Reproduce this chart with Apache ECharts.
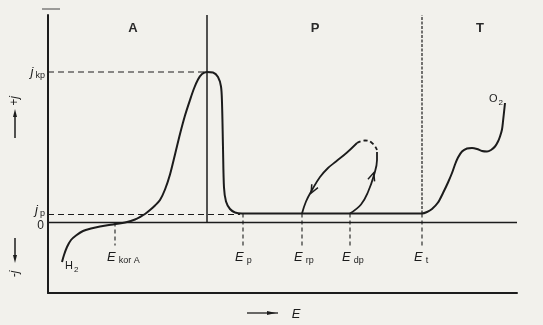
<!DOCTYPE html>
<html>
<head>
<meta charset="utf-8">
<script src="https://cdn.jsdelivr.net/npm/echarts@6/dist/echarts.min.js"></script>
<style>
html,body{margin:0;padding:0;background:#f2f1ec;}
#c{width:543px;height:325px;}
</style>
</head>
<body>
<div id="c"></div>
<script>
// ---- data (E in arbitrary units, j in arbitrary units) ----
const mainE = [1.4, 1.6, 1.9, 2.3, 2.8, 3.5, 4.3, 5.2, 6.5, 7.9, 8.7, 9.2, 9.7, 10.2, 10.7, 11.2, 11.7, 12.2, 12.7, 13.2, 13.7, 14.2, 14.6, 15.0, 15.4, 15.9, 16.5, 17.0, 17.3, 17.4, 17.5, 17.6, 17.8, 18.2, 18.7, 19.4,
               37.4, 37.9, 38.4, 39.0, 39.5, 40.0, 40.4, 40.7, 41.0, 41.4, 41.9, 42.4, 42.9, 43.4, 43.9, 44.3, 44.7, 45.0, 45.2, 45.4, 45.5, 45.7];
const mainJ = [-3.95, -3.25, -2.45, -1.75, -1.3, -0.85, -0.6, -0.4, -0.2, 0.05, 0.3, 0.55, 0.85, 1.25, 1.7, 2.25, 3.3, 4.8, 6.8, 8.85, 10.7, 12.25, 13.4, 14.3, 14.85, 15.05, 15.0, 14.55, 13.6, 12.0, 7.5, 3.5, 2.1, 1.35, 1.0, 0.9,
               0.9, 1.05, 1.35, 2.0, 2.95, 4.0, 4.95, 5.8, 6.5, 7.1, 7.4, 7.45, 7.35, 7.15, 7.1, 7.25, 7.6, 8.1, 8.6, 9.3, 10.1, 11.95];
const loopLeftE = [25.4, 25.8, 26.4, 27.2, 28.0, 28.8, 29.9, 30.9];
const loopLeftJ = [0.9, 2.1, 3.25, 4.55, 5.45, 6.1, 7.0, 7.95];
const loopTopE = [30.9, 31.7, 32.4, 32.9];
const loopTopJ = [7.95, 8.2, 7.95, 7.25];
const loopRightE = [32.9, 32.9, 32.6, 32.0, 31.3, 30.2];
const loopRightJ = [7.05, 6.25, 4.75, 3.05, 1.8, 0.9];
const arrowE = [26.5, 32.45];
const arrowJ = [3.3, 4.6];
const arrowAngle = [-28, 162];

const markE = [6.7, 19.5, 25.4, 30.2, 37.4];
const markTopJ = [0, 0.9, 0.9, 0.9, 0.9];
const markBottomJ = -2.3;
const markSub = ['kor A', 'p', 'rp', 'dp', 't'];
const labelJ = -3.45;

const jkp = 15.05, jp = 0.8;
const peakE = 15.9, jpEndE = 19.2;
const sepAP = 15.9, sepPT = 37.4;
const topJ = 20.75, bottomJ = -7.05;
const xMax = 46.9;

const regionNames = ['A', 'P', 'T'];
const regionE = [8.5, 26.7, 43.2];
const regionJ = 19.4;

const INK = '#1c1c1c';
const FONT = '"Liberation Sans", Arial, sans-serif';

function pts(xs, ys) { return xs.map((x, i) => [x, ys[i]]); }
function seg(a, b, style) {
  return { type: 'line', data: [a, b], symbol: 'none', silent: true,
    lineStyle: Object.assign({ color: INK, width: 1 }, style), z: 2 };
}
const textScatter = { type: 'scatter', symbolSize: 0, z: 7, silent: true,
  itemStyle: { opacity: 1 } };

const series = [];
// main curve
series.push({ type: 'line', data: pts(mainE, mainJ), smooth: 0.3, symbol: 'none',
  lineStyle: { color: INK, width: 2 }, z: 5 });
// loop
series.push({ type: 'line', data: pts(loopLeftE, loopLeftJ), smooth: 0.4, symbol: 'none',
  lineStyle: { color: INK, width: 1.8 }, z: 5 });
series.push({ type: 'line', data: pts(loopTopE, loopTopJ), smooth: 0.5, symbol: 'none',
  lineStyle: { color: INK, width: 1.8, type: [4, 3] }, z: 5 });
series.push({ type: 'line', data: pts(loopRightE, loopRightJ), smooth: 0.4, symbol: 'none',
  lineStyle: { color: INK, width: 1.8 }, z: 5 });
// arrows on loop
series.push({ type: 'scatter', silent: true, data: arrowE.map((e, i) => ({ value: [e, arrowJ[i]], symbolRotate: arrowAngle[i] })),
  symbol: 'path://M0,0 L5,9 L10,0', symbolSize: [7, 8],
  itemStyle: { color: 'rgba(0,0,0,0)', borderColor: INK, borderWidth: 1.6, opacity: 1 }, z: 6 });
// zero line
series.push(seg([0, 0], [xMax, 0], { width: 1.6 }));
// separators
series.push(seg([sepAP, 0], [sepAP, topJ], { width: 1.5 }));
series.push(seg([sepPT, 0.9], [sepPT, topJ], { width: 1.2, type: [3, 1.5] }));
// horizontal dashed
series.push(seg([0, jkp], [peakE, jkp], { width: 1.2, type: [6, 4] }));
series.push(seg([0, jp], [jpEndE, jp], { width: 1.2, type: [6, 4] }));
// drop lines
markE.forEach((e, i) => series.push(seg([e, markTopJ[i]], [e, markBottomJ], { width: 1.1, type: [4, 3] })));

// E labels
series.push(Object.assign({}, textScatter, {
  data: markE.map((e, i) => ({ value: [e, labelJ], name: markSub[i] })),
  label: { show: true, position: [-8, 0], align: 'left', verticalAlign: 'middle',
    formatter: p => '{e|E}{s|' + p.name + '}',
    rich: {
      e: { fontFamily: FONT, fontStyle: 'italic', fontSize: 13, color: INK, lineHeight: 16 },
      s: { fontFamily: FONT, fontSize: 9, color: INK, verticalAlign: 'bottom', lineHeight: 16, padding: [0, 0, 0, 3] }
    } } }));
// region labels
series.push(Object.assign({}, textScatter, {
  data: regionE.map((e, i) => ({ value: [e, regionJ], name: regionNames[i] })),
  label: { show: true, position: 'inside', formatter: p => p.name,
    fontFamily: FONT, fontSize: 13, fontWeight: 'bold', color: '#2a2a2a' } }));
// y labels
series.push(Object.assign({}, textScatter, {
  data: [{ value: [0, jkp], name: 'kp' }, { value: [0, jp + 0.4], name: 'p' }],
  label: { show: true, position: 'left', distance: 3,
    formatter: p => '{j|j}{s|' + p.name + '}',
    rich: {
      j: { fontFamily: FONT, fontStyle: 'italic', fontSize: 13, color: INK, lineHeight: 16 },
      s: { fontFamily: FONT, fontSize: 9, color: INK, verticalAlign: 'bottom', lineHeight: 16, padding: [0, 0, 0, 2] }
    } } }));
series.push(Object.assign({}, textScatter, {
  data: [{ value: [0, -0.3], name: '0' }],
  label: { show: true, position: 'left', distance: 4, formatter: p => p.name,
    fontFamily: FONT, fontSize: 12, color: INK } }));
// H2, O2
series.push(Object.assign({}, textScatter, {
  data: [{ value: [1.7, -4.3], name: 'H' }, { value: [44.1, 12.4], name: 'O' }],
  label: { show: true, position: 'inside', align: 'left', verticalAlign: 'middle',
    formatter: p => '{m|' + p.name + '}{s|2}',
    rich: {
      m: { fontFamily: FONT, fontSize: 11, color: INK, lineHeight: 14 },
      s: { fontFamily: FONT, fontSize: 8, color: INK, verticalAlign: 'bottom', lineHeight: 16, padding: [0, 0, 0, 1] }
    } } }));

const option = {
  backgroundColor: '#f2f1ec',
  animation: false,
  grid: { left: 48, right: 26, top: 15, bottom: 32 },
  xAxis: { type: 'value', min: 0, max: xMax,
    axisLine: { show: true, onZero: false, lineStyle: { color: INK, width: 2 } },
    axisTick: { show: false }, axisLabel: { show: false }, splitLine: { show: false } },
  yAxis: { type: 'value', min: bottomJ, max: topJ,
    axisLine: { show: true, onZero: false, lineStyle: { color: INK, width: 2 } },
    axisTick: { show: false }, axisLabel: { show: false }, splitLine: { show: false } },
  series: series,
  graphic: [
    // tiny top dash
    { type: 'line', shape: { x1: 42, y1: 9, x2: 60, y2: 9 }, style: { stroke: '#444', lineWidth: 1 } },
    // + j arrow (up)
    { type: 'line', shape: { x1: 15, y1: 138, x2: 15, y2: 114 }, style: { stroke: INK, lineWidth: 1.5 } },
    { type: 'polygon', shape: { points: [[15, 109], [13, 117], [17, 117]] }, style: { fill: INK } },
    { type: 'text', x: 15, y: 101, rotation: Math.PI / 2,
      style: { text: '+j', font: 'italic 12px ' + FONT, fill: INK, align: 'center', verticalAlign: 'middle' } },
    // - j arrow (down)
    { type: 'line', shape: { x1: 15, y1: 238, x2: 15, y2: 258 }, style: { stroke: INK, lineWidth: 1.5 } },
    { type: 'polygon', shape: { points: [[15, 263], [13, 255], [17, 255]] }, style: { fill: INK } },
    { type: 'text', x: 15, y: 274, rotation: Math.PI / 2,
      style: { text: '-j', font: 'italic 12px ' + FONT, fill: INK, align: 'center', verticalAlign: 'middle' } },
    // E arrow
    { type: 'line', shape: { x1: 247, y1: 313, x2: 278, y2: 313 }, style: { stroke: INK, lineWidth: 1.3 } },
    { type: 'polygon', shape: { points: [[276, 313], [267, 311], [267, 315]] }, style: { fill: INK } },
    { type: 'text', x: 296, y: 314,
      style: { text: 'E', font: 'italic 13px ' + FONT, fill: INK, align: 'center', verticalAlign: 'middle' } }
  ]
};
const chart = echarts.init(document.getElementById('c'), null, { renderer: 'canvas' });
chart.setOption(option);
</script>
</body>
</html>
